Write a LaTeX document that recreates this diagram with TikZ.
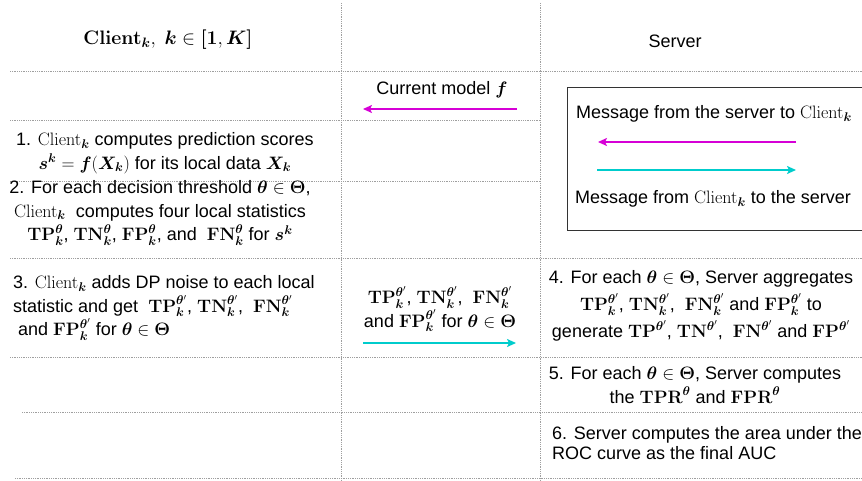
\RequirePackage{fix-cm}
\documentclass[tikz,border=0pt]{standalone}
\usepackage[no-math]{fontspec}
\setmainfont{Liberation Sans}
\usepackage{amsmath,bm}
\usetikzlibrary{arrows.meta, positioning}

\definecolor{msgpink}{RGB}{214,0,214}
\definecolor{msgcyan}{RGB}{0,204,204}

\newcommand{\clientk}{\mathrm{Client}_{\bm{k}}}
\newcommand{\stat}[2]{\mathbf{#1}^{#2}_{\bm{k}}}
\newcommand{\thb}{\bm{\theta}}
\newcommand{\thinTheta}{\bm{\theta}\in\bm{\Theta}}

\tikzset{
    gridline/.style={densely dotted, gray!75, line width=0.8pt},
    msg/.style={line width=1.8pt, -{Stealth[length=9pt, width=8pt, inset=2pt]}},
    txt/.style={font=\fontsize{18}{23.5}\selectfont, align=center, inner sep=0pt},
    widetxt/.style={font=\fontsize{18}{27}\selectfont, align=center, inner sep=0pt},
    tighttxt/.style={font=\fontsize{18}{20.5}\selectfont, align=left, inner sep=0pt},
    headtxt/.style={font=\fontsize{19.5}{24}\selectfont, align=center, inner sep=0pt},
}

\begin{document}
\begin{tikzpicture}[x=1pt, y=-1pt]
            \useasboundingbox (0,0) rectangle (862,481);

            % column and row separators
            \draw[gridline] (341,3) -- (341,481);
            \draw[gridline] (540,3) -- (540,481);
            \foreach \ya/\xa/\xb in {71/10/862, 120/10/540, 181/10/540, 258/10/862, 357/10/862, 412/22/862, 478/15/862}{
                \draw[gridline] (\xa,\ya) -- (\xb,\ya);
            }

            % headings
            \node[headtxt] (clienthead) at (168,40) {$\mathbf{Client}_{\bm k},\ \bm{k}\in\bm{[}\mathbf{1}, \bm{K}\bm{]}$};
            \node[txt] (serverhead) at (675,41) {Server};

            % client steps
            \node[txt] (step1) at (165,153) {1. $\clientk$ computes prediction scores\\
                $\bm{s}^{\bm k}=\bm{f}(\bm{X}_{\bm k})$ for its local data $\bm{X}_{\bm k}$};
            \node[txt] (step2) at (160,213) {2. For each decision threshold $\thinTheta$,\\
                $\clientk$\ \ computes four local statistics\\
                $\stat{TP}{\thb}$, $\stat{TN}{\thb}$, $\stat{FP}{\thb}$, and\ \ $\stat{FN}{\thb}$ for $\bm{s}^{\bm k}$};
            \node[txt, align=left, anchor=west] (step3) at (13,308) {3. $\clientk$ adds DP noise to each local\\
                statistic and get\ \ $\stat{TP}{\thb'}$, $\stat{TN}{\thb'}$,\ \ $\stat{FN}{\thb'}$\\
                \hspace{5pt}and $\stat{FP}{\thb'}$ for $\thinTheta$};

            % messages
            \node[txt] (model) at (442,90) {Current model $\bm{f}$};
            \coordinate (modelstart) at (517,109);
            \coordinate (modelend) at (363,109);
            \draw[msg, msgpink] (modelstart) -- (modelend);

            \node[txt] (stats) at (440,309) {$\stat{TP}{\thb'}$, $\stat{TN}{\thb'}$,\ \ $\stat{FN}{\thb'}$\\
                and $\stat{FP}{\thb'}$ for $\thinTheta$};
            \coordinate (statsstart) at (363,343);
            \coordinate (statsend) at (516,343);
            \draw[msg, msgcyan] (statsstart) -- (statsend);

            % server steps
            \node[widetxt] (step4) at (701,306) {4. For each $\thinTheta$, Server aggregates\\
                $\stat{TP}{\thb'}$, $\stat{TN}{\thb'}$,\ \ $\stat{FN}{\thb'}$ and $\stat{FP}{\thb'}$ to\\
                generate $\mathbf{TP}^{\thb'}$, $\mathbf{TN}^{\thb'}$,\ \ $\mathbf{FN}^{\thb'}$ and $\mathbf{FP}^{\thb'}$};
            \node[txt] (step5) at (695,385) {5. For each $\thinTheta$, Server computes\\
                the $\mathbf{TPR}^{\thb}$ and $\mathbf{FPR}^{\thb}$};
            \node[tighttxt, anchor=west] (step6) at (552,443) {6. Server computes the area under the\\
                ROC curve as the final AUC};

            % legend
            \draw[line width=0.9pt, black!80] (862,87) -- (567,87) -- (567,230) -- (862,230);
            \node[txt] (legendtop) at (714,114) {Message from the server to $\clientk$};
            \coordinate (pinkstart) at (796,142);
            \coordinate (pinkend) at (598,142);
            \draw[msg, msgpink] (pinkstart) -- (pinkend);
            \coordinate (cyanstart) at (597,170);
            \coordinate (cyanend) at (796,170);
            \draw[msg, msgcyan] (cyanstart) -- (cyanend);
            \node[txt] (legendbottom) at (713,199) {Message from $\clientk$ to the server};
        \end{tikzpicture}
\end{document}
